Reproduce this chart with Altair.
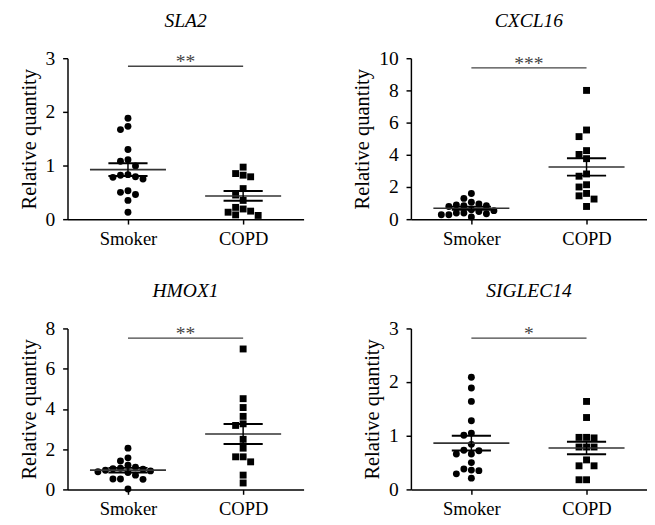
import altair as alt
import pandas as pd

genes = ["SLA2", "CXCL16", "HMOX1", "SIGLEC14"]
groups = ["Smoker", "COPD"]

sla2_smoker = [1.88, 1.73, 1.67, 1.30, 1.11, 1.08, 0.99, 0.83, 0.82, 0.79, 0.78, 0.75, 0.53, 0.50, 0.46, 0.35, 0.13]
sla2_copd = [0.97, 0.85, 0.82, 0.79, 0.57, 0.45, 0.35, 0.22, 0.19, 0.15, 0.13, 0.08, 0.07]
cxcl16_smoker = [1.60, 1.29, 1.05, 0.95, 0.89, 0.83, 0.83, 0.79, 0.59, 0.53, 0.48, 0.38, 0.38, 0.34, 0.28, 0.28, 0.14]
cxcl16_copd = [8.0, 5.54, 5.13, 4.26, 4.02, 3.76, 2.81, 2.67, 2.14, 2.0, 1.6, 1.45, 1.25, 0.79]
hmox1_smoker = [2.05, 1.57, 1.41, 1.20, 1.11, 1.05, 1.03, 1.0, 0.95, 0.92, 0.88, 0.84, 0.71, 0.52, 0.52, 0.50, 0.02]
hmox1_copd = [6.98, 4.51, 4.07, 3.63, 3.26, 3.18, 2.49, 2.05, 1.62, 1.62, 1.37, 0.71, 0.32]
siglec14_smoker = [2.09, 1.89, 1.64, 1.28, 1.05, 1.01, 0.84, 0.73, 0.72, 0.66, 0.66, 0.50, 0.38, 0.36, 0.35, 0.29, 0.21]
siglec14_copd = [1.64, 1.34, 0.97, 0.97, 0.96, 0.79, 0.79, 0.79, 0.55, 0.44, 0.44, 0.18, 0.18]

smoker_values = [sla2_smoker, cxcl16_smoker, hmox1_smoker, siglec14_smoker]
copd_values = [sla2_copd, cxcl16_copd, hmox1_copd, siglec14_copd]

y_max = [3, 10, 8, 3]
y_step = [1, 2, 2, 1]
sig_level = [2.85, 9.4, 7.52, 2.82]
sig_label = ["**", "***", "**", "*"]

W = 242
H = 165
X_MIN, X_MAX = 0.475, 2.525
SERIF = "Liberation Serif"


def swarm(vals, px_per_unit, d=7.4, step=7.7):
    """Beeswarm column index for each value (Prism-like scatter)."""
    order = sorted(range(len(vals)), key=lambda i: -vals[i])
    placed = []
    ks = [0] * len(vals)
    cands = [0]
    for j in range(1, 10):
        cands += [-j, j]
    for i in order:
        y = vals[i] * px_per_unit
        for k in cands:
            ok = True
            for (py, pk) in placed:
                dx = (k - pk) * step
                dy = y - py
                if (dx * dx + dy * dy) ** 0.5 < d:
                    ok = False
                    break
            if ok:
                break
        placed.append((y, k))
        ks[i] = k
    return ks, step


def panel(i):
    ppu = H / y_max[i]
    units_per_px = (X_MAX - X_MIN) / W
    rows = []
    for gi, (g, vals) in enumerate(zip(groups, [smoker_values[i], copd_values[i]])):
        ks, step = swarm(vals, ppu)
        for v, k in zip(vals, ks):
            rows.append({"group": g, "value": v, "xc": gi + 1,
                         "xpos": gi + 1 + k * step * units_per_px})
    df = pd.DataFrame(rows)

    xs = alt.Scale(domain=[X_MIN, X_MAX], nice=False, zero=False)
    ys = alt.Scale(domain=[0, y_max[i]], nice=False)

    xaxis = alt.Axis(values=[1, 2], labelExpr="datum.value == 1 ? 'Smoker' : 'COPD'",
                     title=None, grid=False, tickSize=5, tickWidth=1.5, tickColor="black",
                     domainColor="black", domainWidth=1.5, labelFont=SERIF, labelFontSize=19,
                     labelColor="black", labelPadding=6, labelAngle=0)
    yaxis = alt.Axis(values=list(range(0, y_max[i] + 1, y_step[i])), title="Relative quantity",
                     grid=False, tickSize=5, tickWidth=1.5, tickColor="black",
                     domainColor="black", domainWidth=1.5, labelFont=SERIF, labelFontSize=20,
                     labelColor="black", labelPadding=8, titleFont=SERIF, titleFontSize=21,
                     titleFontWeight="normal", titleColor="black", titlePadding=6)

    X = lambda f: alt.X(f, scale=xs, axis=xaxis)
    Y = lambda f: alt.Y(f, scale=ys, axis=yaxis)

    pts = alt.Chart(df).mark_point(filled=True, size=50, opacity=1, color="black").encode(
        x=X("xpos:Q"),
        y=Y("value:Q"),
        shape=alt.Shape("group:N", scale=alt.Scale(domain=groups, range=["circle", "square"]), legend=None),
    )

    agg = alt.Chart(df).transform_aggregate(
        m="mean(value)", se="stderr(value)", groupby=["group", "xc"]
    ).transform_calculate(
        lo="datum.m - datum.se", hi="datum.m + datum.se",
        xl="datum.xc - 0.33", xr="datum.xc + 0.33",
        cl="datum.xc - 0.17", cr="datum.xc + 0.17",
    )
    mean_rule = agg.mark_rule(color="#333333", strokeWidth=1.6).encode(
        x=X("xl:Q"), x2="xr:Q", y=Y("m:Q"))
    cap_hi = agg.mark_rule(color="black", strokeWidth=2).encode(
        x=X("cl:Q"), x2="cr:Q", y=Y("hi:Q"))
    cap_lo = agg.mark_rule(color="black", strokeWidth=2).encode(
        x=X("cl:Q"), x2="cr:Q", y=Y("lo:Q"))
    vbar = agg.mark_rule(color="black", strokeWidth=1.5).encode(
        x=X("xc:Q"), y=Y("lo:Q"), y2="hi:Q")

    sig_df = pd.DataFrame({"x1": [1.0], "x2": [2.0], "xm": [1.5], "y": [sig_level[i]], "label": [sig_label[i]]})
    sig_line = alt.Chart(sig_df).mark_rule(color="#444444", strokeWidth=1.5).encode(
        x=X("x1:Q"), x2="x2:Q", y=Y("y:Q"))
    sig_text = alt.Chart(sig_df).mark_text(font=SERIF, fontSize=20, color="#444444",
                                           baseline="alphabetic", dy=2).encode(
        x=X("xm:Q"), y=Y("y:Q"), text="label:N")

    return alt.layer(pts, mean_rule, cap_hi, cap_lo, vbar, sig_line, sig_text).properties(
        width=W, height=H,
        title=alt.TitleParams(text=genes[i], font=SERIF, fontStyle="italic", fontSize=20,
                              fontWeight="normal", color="black", offset=18, anchor="middle"),
    )


chart = alt.concat(*[panel(i) for i in range(4)], columns=2,
                   spacing={"row": 112, "column": 110}, bounds="flush").properties(
    padding={"left": 10, "top": -3, "right": 0, "bottom": 0}
).configure_view(stroke=None)

chart.save("out.html", embed_options={"renderer": "svg", "actions": False})
